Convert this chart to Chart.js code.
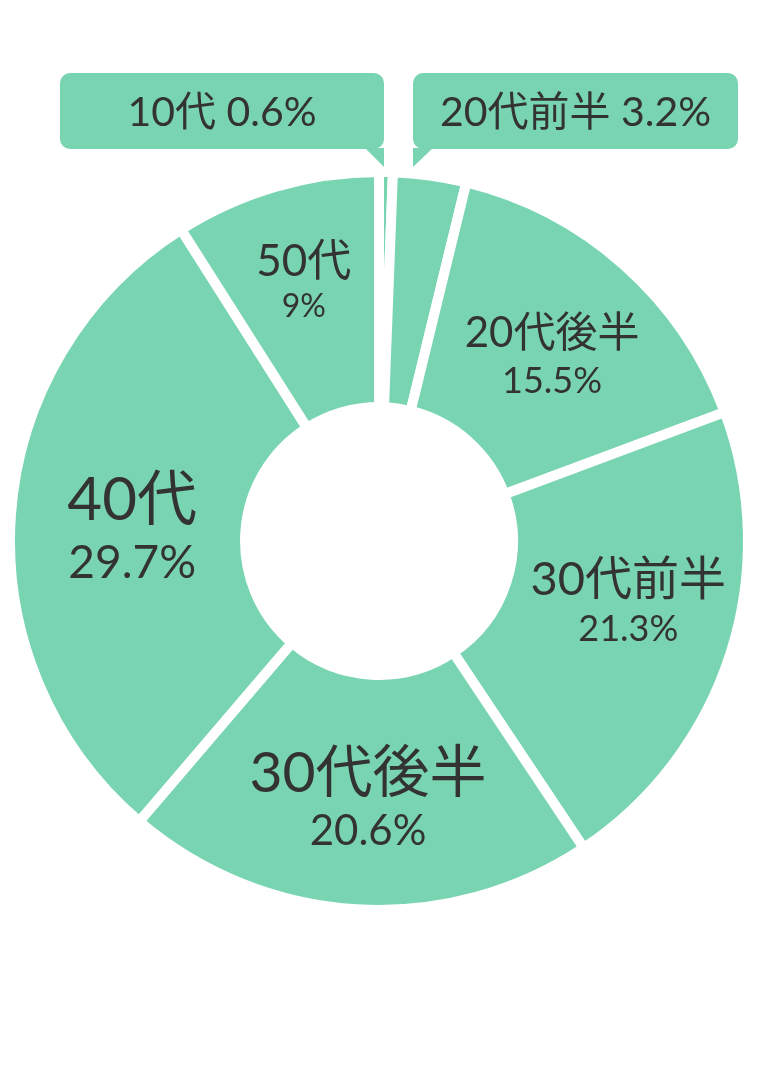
<!DOCTYPE html>
<html lang="ja">
<head>
<meta charset="utf-8">
<title>年代別構成比</title>
<script src="https://cdn.jsdelivr.net/npm/chart.js@4.4.1/dist/chart.umd.min.js"></script>
<style>
  html, body { margin: 0; padding: 0; background: #fff; }
  #wrap { width: 758px; height: 1086px; position: relative; }
</style>
</head>
<body>
<div id="wrap">
  <canvas id="ageChart" width="758" height="1086"></canvas>
</div>
<script>
// data
const ageGroups = ["10代", "20代前半", "20代後半", "30代前半", "30代後半", "40代", "50代"];
const shares = [0.6, 3.2, 15.5, 21.3, 20.6, 29.7, 9];

// styling
const sliceColor = "#79d5b1";
const textColor = "#333333";
const fontStack = 'Lato, "Noto Sans CJK JP", sans-serif';
const calloutLimit = 5; // slices smaller than this get a box above the chart
// [label size, value size] for labels drawn inside the ring
const labelFont = [[0, 0], [0, 0], [42, 36], [47, 36], [57, 42], [60, 46], [44, 32]];
// small nudges from the arc centre point
const labelShift = [[0, 0], [0, 0], [6, 2], [10, -17], [4, 6], [4, 4], [-5, -19]];
// callout boxes (x, y, w, h) and the tail on the box bottom
const calloutBoxes = {
    0: { x: 60, y: 73, w: 324, h: 76, tail: [[365, 149], [384, 149], [384, 167]] },
    1: { x: 413, y: 73, w: 325, h: 76, tail: [[413, 149], [433, 149], [413, 167]] },
};

function fmt(v) {
    return v + "%";
}

const labelPlugin = {
    id: "sliceLabels",
    afterDatasetsDraw(chart) {
        const ctx = chart.ctx;
        const meta = chart.getDatasetMeta(0);
        ctx.save();
        ctx.textAlign = "center";
        ctx.textBaseline = "alphabetic";

        meta.data.forEach(function (arc, i) {
            const v = shares[i];
            if (v < calloutLimit) {
                const b = calloutBoxes[i];
                if (!b) return;
                ctx.fillStyle = sliceColor;
                ctx.beginPath();
                ctx.roundRect(b.x, b.y, b.w, b.h, 10);
                ctx.fill();
                ctx.beginPath();
                ctx.moveTo(b.tail[0][0], b.tail[0][1] - 1);
                ctx.lineTo(b.tail[1][0], b.tail[1][1] - 1);
                ctx.lineTo(b.tail[2][0], b.tail[2][1]);
                ctx.closePath();
                ctx.fill();
                ctx.fillStyle = textColor;
                ctx.font = "41px " + fontStack;
                ctx.fillText(ageGroups[i] + " " + fmt(v), b.x + b.w / 2, b.y + 53);
                return;
            }

            const p = arc.getCenterPoint();
            const ls = labelFont[i][0];
            const vs = labelFont[i][1];
            const capL = ls * 0.72;
            const step = vs * 1.27;
            const cx = p.x + labelShift[i][0];
            const cy = p.y + labelShift[i][1];
            const base1 = cy - (capL + step) / 2 + capL;

            ctx.fillStyle = textColor;
            ctx.font = ls + "px " + fontStack;
            ctx.fillText(ageGroups[i], cx, base1);
            ctx.font = vs + "px " + fontStack;
            ctx.fillText(fmt(v), cx, base1 + step);
        });
        ctx.restore();
    },
};

const ageChart = new Chart(document.getElementById("ageChart"), {
    type: "doughnut",
    data: {
        labels: ageGroups,
        datasets: [
            {
                data: shares,
                backgroundColor: sliceColor,
                borderColor: "#ffffff",
                borderWidth: 10,
                hoverBorderWidth: 10,
                hoverBackgroundColor: sliceColor,
            },
        ],
    },
    options: {
        responsive: false,
        animation: false,
        devicePixelRatio: 1,
        rotation: 0,
        cutout: "36.3%",
        layout: {
            padding: { left: 5, right: 5, top: 167, bottom: 171 },
        },
        plugins: {
            legend: { display: false },
            tooltip: { enabled: false },
        },
        events: [],
    },
    plugins: [labelPlugin],
});
</script>
</body>
</html>
